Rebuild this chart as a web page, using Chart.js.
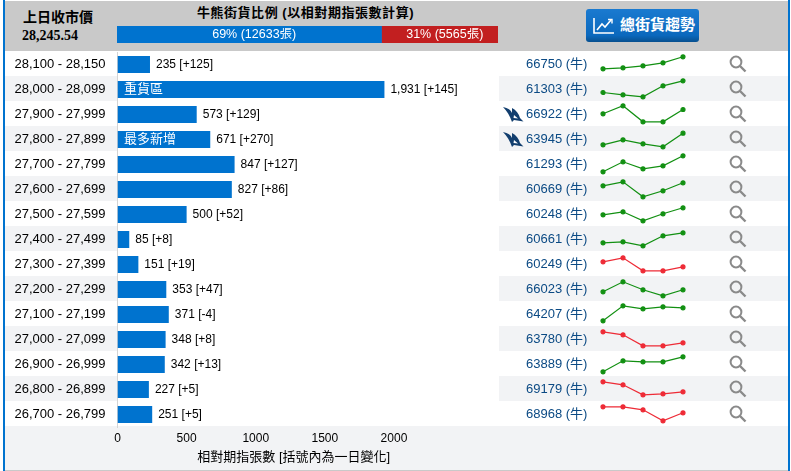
<!DOCTYPE html>
<html>
<head>
<meta charset="utf-8">
<title>牛熊街貨比例</title>
<script src="https://cdn.jsdelivr.net/npm/chart.js@4"></script>
<style>
html, body { margin: 0; padding: 0; background: #fff; overflow: hidden; }
body { width: 791px; height: 471px; position: relative; font-family: "Liberation Sans", "Noto Sans CJK TC", sans-serif; }
div, a, svg, canvas { position: absolute; }
#leftBar { left: 3px; top: 0; width: 2px; height: 471px; background: #0073cf; }
#rightBar { left: 788px; top: 0; width: 2px; height: 471px; background: #0073cf; }
#head { left: 5px; top: 1px; width: 783px; height: 50px; background: #c9c9c9; }
#foot { left: 5px; top: 426px; width: 783px; height: 44px; background: #f2f3f5; border-bottom: 1px solid #c9c9c9; }
.stripe { height: 25px; background: #f2f3f5; }
.txt { white-space: nowrap; color: #000; }
.code { left: 526px; font-size: 13px; line-height: 25px; color: #0b4a84; white-space: nowrap; }
#btn { left: 586px; top: 9px; width: 113px; height: 33px; border-radius: 3px; background: linear-gradient(#1a7ad0, #0a68bd 80%, #07508f); color: #fff; font-weight: bold; font-size: 15px; line-height: 32px; text-indent: 34px; white-space: nowrap; box-sizing: border-box; }
</style>
</head>
<body>
<div id="rows"></div>
<div id="head"></div>
<div id="foot"></div>
<div id="leftBar"></div>
<div id="rightBar"></div>

<div class="txt" style="left:23px;top:8px;font-size:14px;font-weight:bold;line-height:18px">上日收市價</div>
<div class="txt" style="left:22px;top:27px;font-size:14px;font-weight:bold;line-height:18px;font-family:'Liberation Serif',serif">28,245.54</div>
<div class="txt" style="left:117px;width:377px;top:5px;text-align:center;font-size:13px;font-weight:bold;line-height:16px;letter-spacing:0.55px">牛熊街貨比例 (以相對期指張數計算)</div>

<canvas id="ratioChart" style="left:117px;top:26px;width:381px;height:17px"></canvas>
<canvas id="mainChart" style="left:0;top:0;width:791px;height:471px"></canvas>

<div id="btn">總街貨趨勢
  <svg style="left:7px;top:8px" width="22" height="18" viewBox="0 0 22 18" fill="none" stroke="#fff" stroke-width="1.6">
    <path d="M1 1V16H21"/><path d="M4 13L9 7L12 10L18 3"/><path d="M15 2.5H19V6.5" stroke-width="1.4"/>
  </svg>
</div>

<div id="codes"></div>

<script>
var categories = ["28,100 - 28,150", "28,000 - 28,099", "27,900 - 27,999", "27,800 - 27,899", "27,700 - 27,799",
  "27,600 - 27,699", "27,500 - 27,599", "27,400 - 27,499", "27,300 - 27,399", "27,200 - 27,299",
  "27,100 - 27,199", "27,000 - 27,099", "26,900 - 26,999", "26,800 - 26,899", "26,700 - 26,799"];
var contracts = [235, 1931, 573, 671, 847, 827, 500, 85, 151, 353, 371, 348, 342, 227, 251];
var changes = ["+125", "+145", "+129", "+270", "+127", "+86", "+52", "+8", "+19", "+47", "-4", "+8", "+13", "+5", "+5"];
var barTags = ["", "重貨區", "", "最多新增", "", "", "", "", "", "", "", "", "", "", ""];
var codes = ["66750", "61303", "66922", "63945", "61293", "60669", "60248", "60661", "60249", "66023", "64207", "63780", "63889", "69179", "68968"];
var codeSide = "牛";
var sharkRows = [2, 3];
var xTicks = [0, 500, 1000, 1500, 2000];
var xTitle = "相對期指張數 [括號內為一日變化]";

var bullCount = 12633;
var bearCount = 5565;
var bullLabel = "69% (12633張)";
var bearLabel = "31% (5565張)";

// five points per row, height
var trends = [
  [8.2, 9.2, 11.2, 14.2, 20.2],
  [9.5, 7.2, 5.2, 16.2, 21.2],
  [13.2, 21.2, 5.2, 5.2, 17.5],
  [7.2, 12.2, 8.2, 5.2, 18.8],
  [5.2, 15.2, 8.2, 11.2, 21.2],
  [16.2, 20.2, 5.2, 11.2, 19.2],
  [12.2, 15.2, 6.2, 13.2, 19.2],
  [9.2, 10.2, 6.2, 16.2, 19.2],
  [15.2, 19.2, 6.2, 6.2, 10.2],
  [10.2, 20.2, 12.2, 6.2, 12.2],
  [6.2, 21.2, 18.2, 20.2, 19.2],
  [20.2, 17.2, 6.2, 6.2, 9.2],
  [5.2, 16.2, 15.2, 15.2, 20.2],
  [20.2, 17.2, 7.2, 8.2, 10.2],
  [20.2, 20.2, 17.2, 6.2, 14.2]
];
var trendUp = [1, 1, 1, 1, 1, 1, 1, 1, 0, 1, 1, 0, 1, 0, 0];
var trendDays = ["1", "2", "3", "4", "5"];

Chart.defaults.animation = false;
Chart.defaults.responsive = false;
Chart.defaults.font.family = '"Liberation Sans", "Noto Sans CJK TC", sans-serif';

var font12 = '12px "Liberation Sans", "Noto Sans CJK TC", sans-serif';
var font13 = '13px "Liberation Sans", "Noto Sans CJK TC", sans-serif';
var rowsDiv = document.getElementById("rows");
var codesDiv = document.getElementById("codes");

// stripes, codes, icons
categories.forEach(function (c, i) {
  var top = 51 + i * 25;
  if (i % 2 == 1) {
    var s1 = document.createElement("div");
    s1.className = "stripe";
    s1.style.cssText = "left:5px;width:112px;top:" + top + "px";
    var s2 = document.createElement("div");
    s2.className = "stripe";
    s2.style.cssText = "left:499px;width:289px;top:" + top + "px";
    rowsDiv.append(s1, s2);
  }
  var code = document.createElement("a");
  code.className = "code";
  code.style.top = top + "px";
  code.innerHTML = codes[i] + " (" + codeSide + ")";
  codesDiv.append(code);

  var glass = document.createElementNS("http://www.w3.org/2000/svg", "svg");
  glass.setAttribute("width", "18");
  glass.setAttribute("height", "18");
  glass.setAttribute("viewBox", "0 0 18 18");
  glass.style.cssText = "left:729px;top:" + (top + 4) + "px";
  glass.innerHTML = '<circle cx="7" cy="7" r="5.4" fill="none" stroke="#8a8a8a" stroke-width="2"/><path d="M11 11L16.5 16.5" stroke="#8a8a8a" stroke-width="2.4"/>';
  codesDiv.append(glass);

  if (sharkRows.indexOf(i) >= 0) {
    var shark = document.createElementNS("http://www.w3.org/2000/svg", "svg");
    shark.setAttribute("width", "21");
    shark.setAttribute("height", "16");
    shark.setAttribute("viewBox", "0 0 21 16");
    shark.style.cssText = "left:503px;top:" + (top + 6) + "px";
    shark.innerHTML = '<path d="M0 0C5 1 8 3 9 6L9 1C13 3 16 7 17 11L20.5 14.5L11 13L9 15C7 9 4 4 0 0Z" fill="#123e6e"/><path d="M11 8L15 11.5L10.5 11Z" fill="#fff"/>';
    codesDiv.append(shark);
  }

  // one small line chart per row
  var cv = document.createElement("canvas");
  cv.width = 96;
  cv.height = 25;
  cv.style.cssText = "left:595px;top:" + (top + 0.5) + "px;width:96px;height:25px";
  codesDiv.append(cv);
  var col = trendUp[i] ? "#129012" : "#ee2b36";
  new Chart(cv, {
    type: "line",
    data: {
      labels: trendDays,
      datasets: [{
        data: trends[i],
        borderColor: col,
        backgroundColor: col,
        borderWidth: 1.2,
        pointRadius: 2,
        tension: 0,
        clip: false
      }]
    },
    options: {
      layout: { autoPadding: false, padding: { left: 8, right: 8 } },
      plugins: { legend: { display: false }, tooltip: { enabled: false } },
      scales: {
        x: { display: false },
        y: { display: false, min: 0, max: 25 }
      }
    }
  });
});

// 69/31 strip under the heading
var ratioText = {
  id: "ratioText",
  afterDatasetsDraw: function (chart) {
    var ctx = chart.ctx;
    var x = chart.scales.x;
    ctx.save();
    ctx.fillStyle = "#fff";
    ctx.font = '12.5px "Liberation Sans", "Noto Sans CJK TC", sans-serif';
    ctx.textAlign = "center";
    ctx.textBaseline = "middle";
    ctx.fillText(bullLabel, (x.getPixelForValue(0) + x.getPixelForValue(bullCount)) / 2 + 5, 9);
    ctx.fillText(bearLabel, (x.getPixelForValue(bullCount) + x.getPixelForValue(bullCount + bearCount)) / 2 + 5, 9);
    ctx.restore();
  }
};
var ratioCv = document.getElementById("ratioChart");
ratioCv.width = 381;
ratioCv.height = 17;
new Chart(ratioCv, {
  type: "bar",
  data: {
    labels: ["ratio"],
    datasets: [
      { data: [bullCount], backgroundColor: "#0073cf", barPercentage: 1, categoryPercentage: 1 },
      { data: [bearCount], backgroundColor: "#c21f20", barPercentage: 1, categoryPercentage: 1 }
    ]
  },
  options: {
    indexAxis: "y",
    plugins: { legend: { display: false }, tooltip: { enabled: false } },
    scales: {
      x: { display: false, stacked: true, min: 0, max: bullCount + bearCount },
      y: { display: false, stacked: true }
    }
  },
  plugins: [ratioText]
});

// value labels beside the bars, tag inside the bar
var barLabels = {
  id: "barLabels",
  afterDatasetsDraw: function (chart) {
    var ctx = chart.ctx;
    chart.getDatasetMeta(0).data.forEach(function (bar, i) {
      ctx.save();
      ctx.font = font12;
      ctx.textBaseline = "middle";
      ctx.fillStyle = "#000";
      ctx.fillText(contracts[i].toLocaleString("en-US") + " [" + changes[i] + "]", bar.x + 6, bar.y);
      if (barTags[i]) {
        ctx.font = font13;
        ctx.fillStyle = "#fff";
        ctx.fillText(barTags[i], chart.scales.x.getPixelForValue(0) + 6.5, bar.y);
      }
      ctx.restore();
    });
  }
};

var mainCv = document.getElementById("mainChart");
mainCv.width = 791;
mainCv.height = 471;
new Chart(mainCv, {
  type: "bar",
  data: {
    labels: categories,
    datasets: [{ data: contracts, backgroundColor: "#0073cf", barPercentage: 0.68, categoryPercentage: 1 }]
  },
  options: {
    indexAxis: "y",
    layout: { padding: { top: 52, left: 5, right: 321, bottom: 0 } },
    plugins: { legend: { display: false }, tooltip: { enabled: false } },
    scales: {
      x: {
        min: 0,
        max: 2550,
        afterBuildTicks: function (scale) {
          scale.ticks = xTicks.map(function (v) { return { value: v }; });
        },
        afterFit: function (scale) { scale.height = 44; },
        grid: { display: false, drawTicks: false },
        border: { display: false },
        ticks: {
          color: "#000", font: { size: 12 }, padding: 4, maxRotation: 0, autoSkip: false,
          callback: function (v) { return String(v); }
        },
        title: { display: true, text: xTitle, color: "#000", font: { size: 13 }, padding: { top: 4, bottom: 6 } }
      },
      y: {
        afterFit: function (scale) { scale.width = 112.5; },
        grid: { display: false, drawTicks: false },
        border: { display: true, color: "#d4d4d4", width: 1 },
        ticks: { color: "#000", font: { size: 13 }, crossAlign: "center", padding: 12, autoSkip: false }
      }
    }
  },
  plugins: [barLabels]
});
</script>
</body>
</html>
